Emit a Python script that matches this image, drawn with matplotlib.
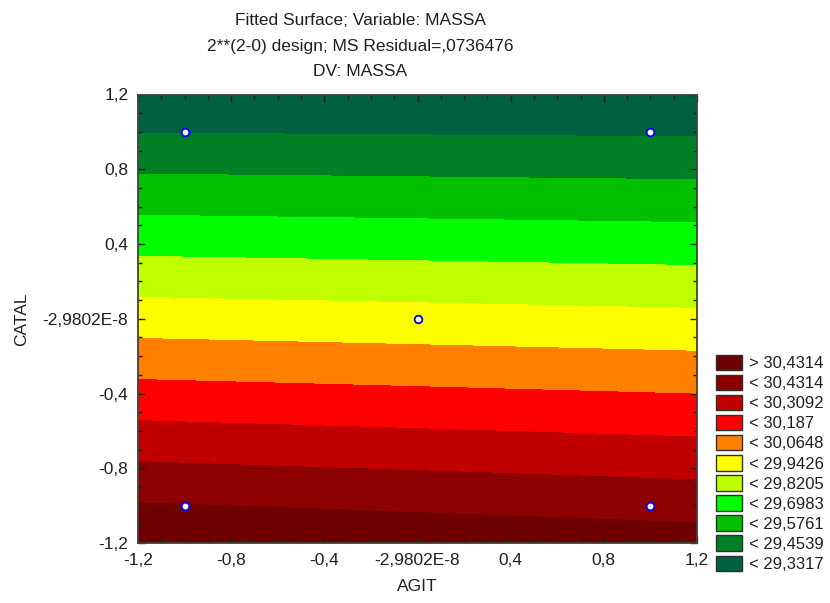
import numpy as np
import matplotlib.pyplot as plt
from matplotlib.patches import Patch
from matplotlib.ticker import MultipleLocator

plt.rcParams['font.family'] = ['Liberation Sans', 'DejaVu Sans']

# fitted model MASSA = b0 + b1*AGIT + b2*CATAL + b12*AGIT*CATAL
b0 = 29.867
b_agit = -0.0142
b_catal = -0.5441
b_inter = 0.0097

# design points (2**2 factorial + centre)
agit_pts = [-1, 1, -1, 1, 0]
catal_pts = [-1, -1, 1, 1, 0]

# contour levels from the legend, low -> high
levels = [29.3317, 29.4539, 29.5761, 29.6983, 29.8205, 29.9426,
          30.0648, 30.187, 30.3092, 30.4314]
band_colors = ['#006040', '#007f24', '#00c000', '#00ff00', '#c0ff00', '#ffff00',
               '#ff8000', '#ff0000', '#c00000', '#8c0000', '#6e0000']

tick_vals = [-1.2, -0.8, -0.4, 0.0, 0.4, 0.8, 1.2]
tick_labels = ['-1,2', '-0,8', '-0,4', '-2,9802E-8', '0,4', '0,8', '1,2']

title = 'Fitted Surface; Variable: MASSA\n2**(2-0) design; MS Residual=,0736476\nDV: MASSA'

fig = plt.figure(figsize=(8.3, 6.03), dpi=100)
ax = fig.add_axes([138 / 830, 60 / 603, 559 / 830, 448.5 / 603])

x = np.linspace(-1.2, 1.2, 200)
y = np.linspace(-1.2, 1.2, 200)
X, Y = np.meshgrid(x, y)
Z = b0 + b_agit * X + b_catal * Y + b_inter * X * Y

bounds = [Z.min() - 1] + levels + [Z.max() + 1]
ax.contourf(X, Y, Z, levels=bounds, colors=band_colors)

ax.plot(agit_pts, catal_pts, 'o', ms=5.5, mfc='white', mec='#0000ff', mew=1.3, zorder=5)

ax.set_xlim(-1.2, 1.2)
ax.set_ylim(-1.2, 1.2)
ax.set_xticks(tick_vals)
ax.set_xticklabels(tick_labels)
ax.set_yticks(tick_vals)
ax.set_yticklabels(tick_labels)
ax.xaxis.set_minor_locator(MultipleLocator(0.1))
ax.yaxis.set_minor_locator(MultipleLocator(0.1))
ax.tick_params(which='both', direction='in', top=True, right=True,
               color='#202020', labelsize=12.5, labelcolor='#202020')
ax.tick_params(which='major', length=5, width=1, pad=7)
ax.tick_params(which='minor', length=3, width=1)
for s in ax.spines.values():
    s.set_color('#404040')
    s.set_linewidth(1.3)

ax.set_xlabel('AGIT', fontsize=12.5, color='#202020', labelpad=8)
ax.set_ylabel('CATAL', fontsize=12.5, color='#202020', labelpad=10)

fig.text(360 / 830, 1 - 13 / 603, title, ha='center', va='top', fontsize=12.5,
         color='#202020', linespacing=1.88)

# legend: highest band first
labels = ['> ' + str(levels[-1]).replace('.', ',')]
labels += ['< ' + str(v).replace('.', ',') for v in levels[::-1]]
handles = [Patch(facecolor=c, edgecolor='#303030', linewidth=1)
           for c in band_colors[::-1]]
fig.legend(handles, labels, loc='upper left', bbox_to_anchor=(704 / 830, 1 - 343 / 603),
           frameon=False, fontsize=12, handlelength=1.6, handleheight=1.05,
           handletextpad=0.4, labelspacing=0.22, borderpad=0.2, labelcolor='#202020')

fig.savefig('out.png', dpi=100)
